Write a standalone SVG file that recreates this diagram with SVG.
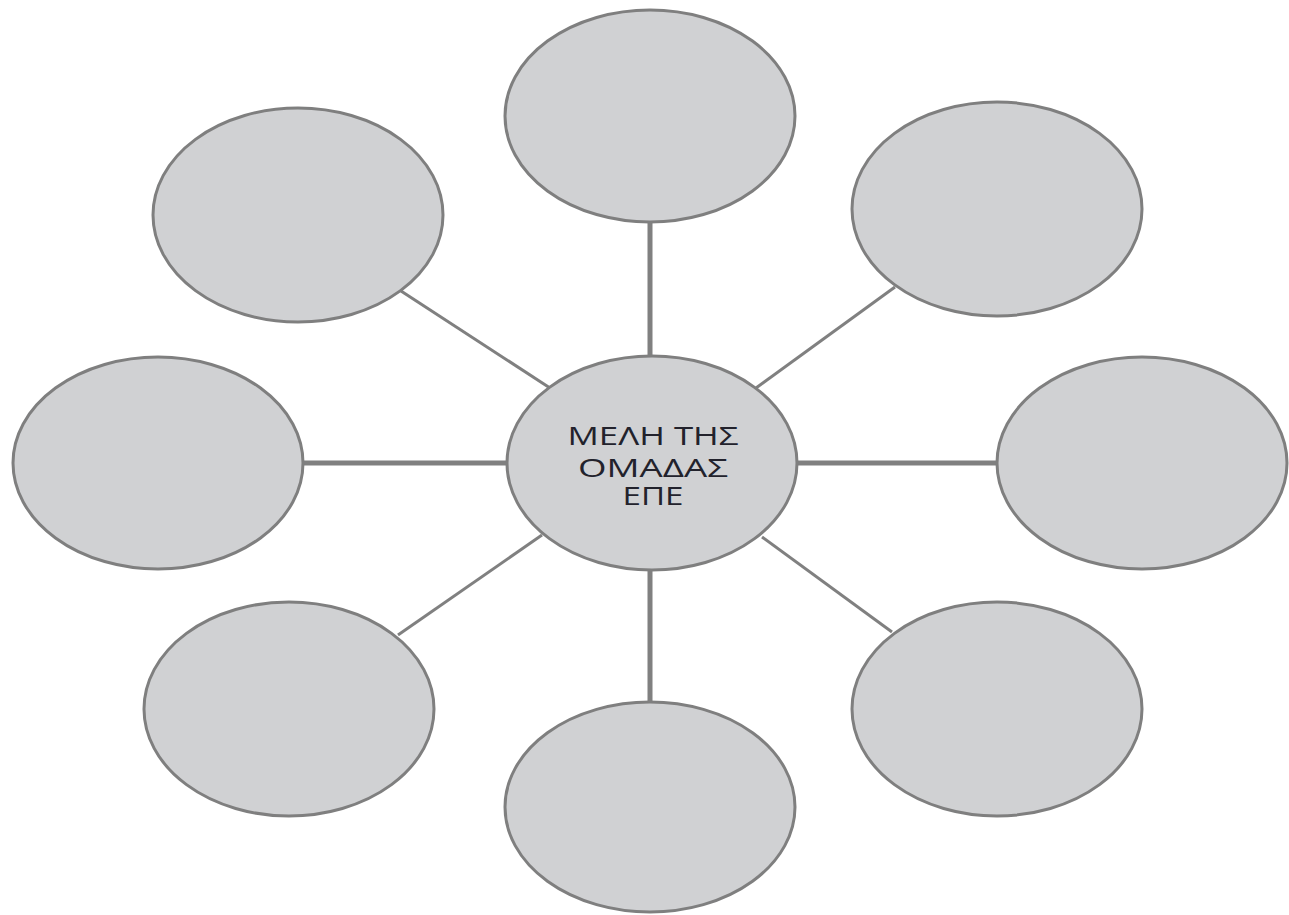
<svg xmlns="http://www.w3.org/2000/svg" width="1289" height="915" viewBox="0 0 1289 915">
<style>
.node{fill:#d0d1d3;stroke:#7f7f7f;stroke-width:3}
.thick{stroke:#808080;stroke-width:5;fill:none}
.thin{stroke:#808080;stroke-width:3;fill:none}
.lbl{font-family:"Open Sans","DejaVu Sans",sans-serif;font-size:25px;fill:#22222c;text-anchor:middle}
</style>
<rect width="1289" height="915" fill="#fff"/>
<g id="connectors">
<line class="thick" x1="650" y1="222" x2="650" y2="357"/>
<line class="thick" x1="650" y1="569" x2="650" y2="702"/>
<line class="thick" x1="303" y1="463" x2="508" y2="463"/>
<line class="thick" x1="796" y1="463" x2="997" y2="463"/>
<line class="thin" x1="401" y1="291" x2="550" y2="388"/>
<line class="thin" x1="895" y1="287" x2="756" y2="388"/>
<line class="thin" x1="398" y1="635" x2="542" y2="535"/>
<line class="thin" x1="892" y1="632" x2="762" y2="537"/>
</g>
<g id="n-top"><ellipse class="node" cx="650" cy="116" rx="145" ry="106"/></g>
<g id="n-topleft"><ellipse class="node" cx="298" cy="215" rx="145" ry="107"/></g>
<g id="n-topright"><ellipse class="node" cx="997" cy="209" rx="145" ry="107"/></g>
<g id="n-left"><ellipse class="node" cx="158" cy="463" rx="145" ry="106"/></g>
<g id="n-right"><ellipse class="node" cx="1142" cy="463" rx="145" ry="106"/></g>
<g id="n-bottomleft"><ellipse class="node" cx="289" cy="709" rx="145" ry="107"/></g>
<g id="n-bottom"><ellipse class="node" cx="650" cy="807" rx="145" ry="105"/></g>
<g id="n-bottomright"><ellipse class="node" cx="997" cy="709" rx="145" ry="107"/></g>
<g id="n-center">
<ellipse class="node" cx="652" cy="463" rx="145" ry="107"/>
<text class="lbl" x="653" y="445" textLength="171" lengthAdjust="spacingAndGlyphs">ΜΕΛΗ ΤΗΣ</text>
<text class="lbl" x="653" y="477" textLength="150" lengthAdjust="spacingAndGlyphs">ΟΜΑΔΑΣ</text>
<text class="lbl" x="653" y="505" textLength="61" lengthAdjust="spacingAndGlyphs">ΕΠΕ</text>
</g>
</svg>
